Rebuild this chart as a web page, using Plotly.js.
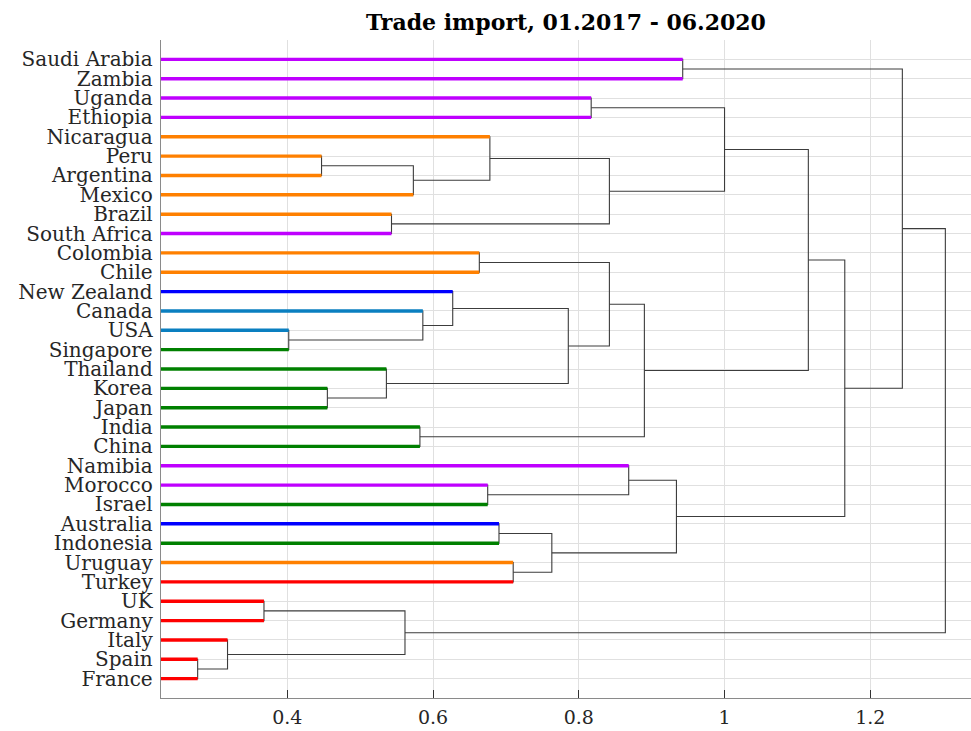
<!DOCTYPE html>
<html>
<head>
<meta charset="utf-8">
<script src="https://cdn.plot.ly/plotly-3.0.1.min.js"></script>
<style>
  html, body { margin: 0; padding: 0; background: #ffffff; }
  #chart { width: 971px; height: 731px; }
</style>
</head>
<body>
<div id="chart"></div>
<script>
// Leaves, top to bottom
const countries = [
  "Saudi Arabia", "Zambia", "Uganda", "Ethiopia", "Nicaragua", "Peru", "Argentina",
  "Mexico", "Brazil", "South Africa", "Colombia", "Chile", "New Zealand", "Canada",
  "USA", "Singapore", "Thailand", "Korea", "Japan", "India", "China", "Namibia",
  "Morocco", "Israel", "Australia", "Indonesia", "Uruguay", "Turkey", "UK",
  "Germany", "Italy", "Spain", "France"
];
const leafGroup = [
  "purple", "purple", "purple", "purple", "orange", "orange", "orange",
  "orange", "orange", "purple", "orange", "orange", "blue", "lightblue",
  "lightblue", "green", "green", "green", "green", "green", "green", "purple",
  "purple", "green", "blue", "green", "orange", "red", "red",
  "red", "red", "red", "red"
];
const groupColors = {
  purple: "#BF00FF", orange: "#FF8000", blue: "#0000FF",
  lightblue: "#0A7FC0", green: "#008000", red: "#FF0000"
};

// Linkage (ids 0..32 = leaves, 33+k = k-th merge)
const linkLeft  = [31, 30, 28, 14, 5, 17, 16, 8, 35, 37, 19, 13, 12, 10, 22, 4, 24, 26, 49, 45, 2, 48, 46, 21, 55, 56, 0, 53, 60, 61, 59, 63];
const linkRight = [32, 33, 29, 15, 6, 18, 38, 9, 34, 7, 20, 36, 44, 11, 23, 42, 25, 27, 50, 39, 3, 40, 52, 47, 43, 51, 1, 54, 57, 58, 62, 41];
const linkHeight = [0.277, 0.318, 0.368, 0.402, 0.447, 0.455, 0.536, 0.543, 0.5615, 0.573,
  0.582, 0.586, 0.627, 0.6635, 0.675, 0.678, 0.6905, 0.710, 0.763, 0.7856,
  0.817, 0.842, 0.842, 0.8685, 0.890, 0.934, 0.9426, 1.000, 1.115, 1.165,
  1.244, 1.303];

const xTickVals = [0.4, 0.6, 0.8, 1, 1.2];
const xTickText = ["0.4", "0.6", "0.8", "1", "1.2"];

// ---- build geometry from the linkage ----
const nLeaf = countries.length;
const nodeY = [], nodeH = [];
for (let i = 0; i < nLeaf; i++) { nodeY.push(nLeaf - i); nodeH.push(0); }
const parentH = new Array(nLeaf).fill(0);
const lx = [], ly = [];
for (let k = 0; k < linkHeight.length; k++) {
  const a = linkLeft[k], b = linkRight[k], h = linkHeight[k];
  lx.push(nodeH[a], h, h, nodeH[b], null);
  ly.push(nodeY[a], nodeY[a], nodeY[b], nodeY[b], null);
  nodeY.push((nodeY[a] + nodeY[b]) / 2);
  nodeH.push(h);
  if (a < nLeaf) parentH[a] = h;
  if (b < nLeaf) parentH[b] = h;
}

const traces = [{
  type: "scatter", mode: "lines", x: lx, y: ly,
  line: { color: "#3c3c3c", width: 1.1 }, hoverinfo: "skip", showlegend: false
}];
for (let i = 0; i < nLeaf; i++) {
  traces.push({
    type: "scatter", mode: "lines",
    x: [0, parentH[i]], y: [nodeY[i], nodeY[i]],
    line: { color: groupColors[leafGroup[i]], width: 3.4 },
    name: countries[i], hoverinfo: "name", showlegend: false
  });
}

const yTickVals = [], yTickText = [];
for (let i = 0; i < nLeaf; i++) { yTickVals.push(nodeY[i]); yTickText.push(countries[i]); }

const layout = {
  width: 971, height: 731,
  margin: { l: 161, r: 0, t: 40, b: 33, pad: 0 },
  paper_bgcolor: "#ffffff", plot_bgcolor: "#ffffff",
  font: { family: "DejaVu Serif, serif", size: 20, color: "#262626" },
  title: {
    text: "<b>Trade import, 01.2017 - 06.2020</b>",
    font: { family: "DejaVu Serif, serif", size: 22, color: "#000000" },
    x: 0.5, xref: "paper", xanchor: "center",
    y: 1 - 22 / 731, yref: "container", yanchor: "middle"
  },
  xaxis: {
    range: [0.2267, 1.3382], tickvals: xTickVals, ticktext: xTickText,
    showgrid: true, gridcolor: "#e0e0e0", gridwidth: 1,
    zeroline: false, showline: true, linecolor: "#8a8a8a", linewidth: 1.3,
    ticks: "inside", ticklen: 8, tickcolor: "#333333", tickwidth: 1,
    ticklabelstandoff: 2,
    tickfont: { family: "DejaVu Serif, serif", size: 19, color: "#262626" },
    fixedrange: true
  },
  yaxis: {
    range: [0, 34], tickvals: yTickVals, ticktext: yTickText,
    showgrid: true, gridcolor: "#e0e0e0", gridwidth: 1,
    zeroline: false, showline: true, linecolor: "#8a8a8a", linewidth: 1.3,
    ticks: "outside", ticklen: 3, tickcolor: "rgba(0,0,0,0)",
    tickfont: { family: "DejaVu Serif, serif", size: 20, color: "#262626" },
    fixedrange: true
  },
  showlegend: false
};

Plotly.newPlot("chart", traces, layout, { displayModeBar: false, staticPlot: true });
</script>
</body>
</html>
